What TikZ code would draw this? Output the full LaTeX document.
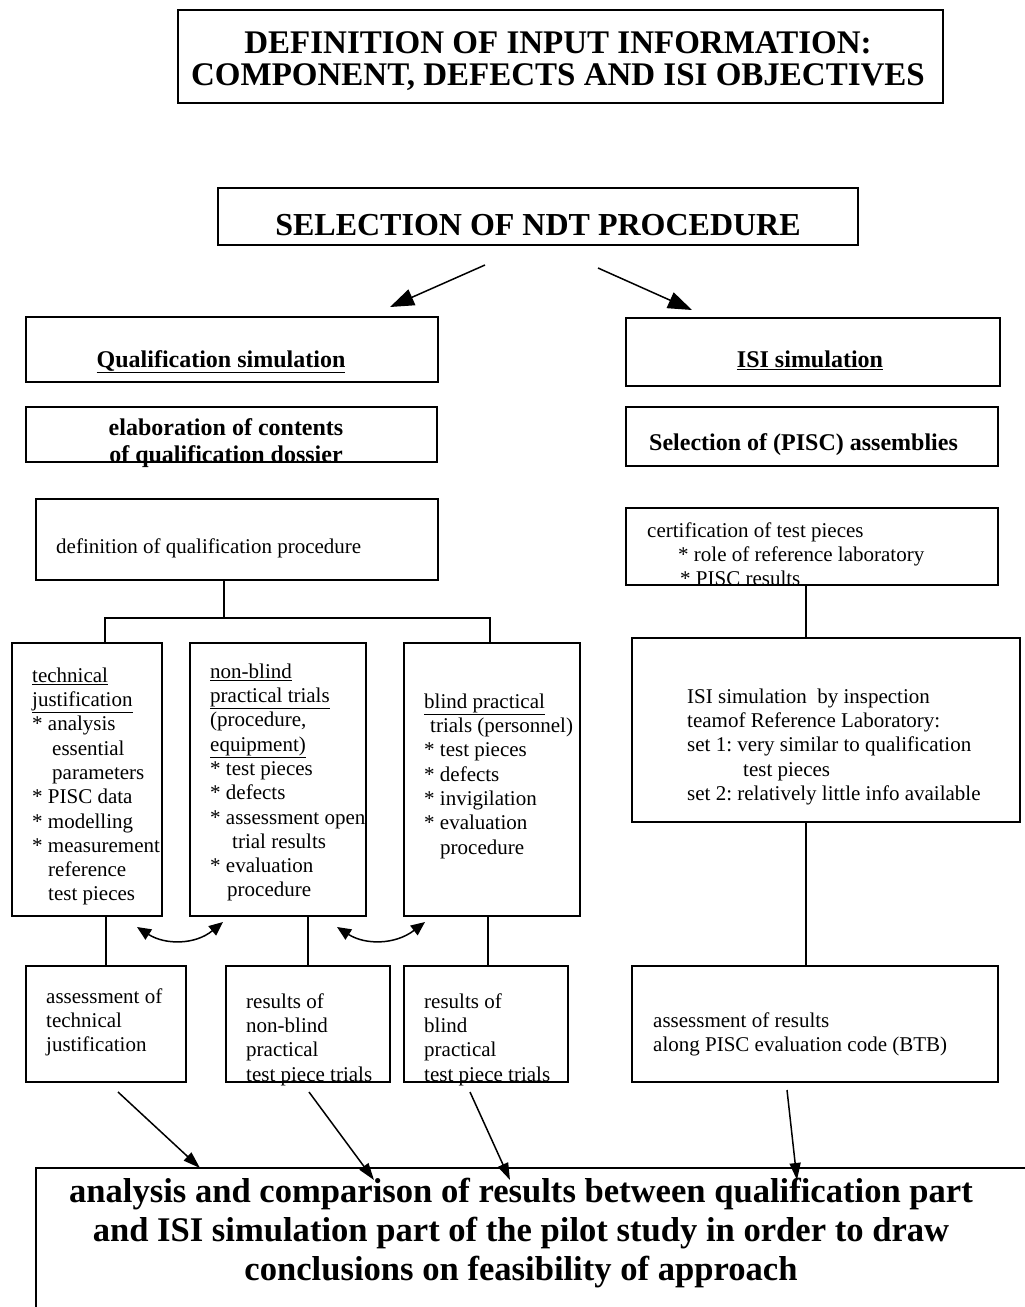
\documentclass[tikz,border=0pt]{standalone}
\usepackage{fontspec}
\setmainfont{Liberation Serif}
\usetikzlibrary{arrows.meta}
\frenchspacing
\begin{document}
\begin{tikzpicture}[x=1pt,y=-1pt,
  box/.style={draw, line width=1.5pt, inner sep=0pt},
  conn/.style={line width=1.5pt},
  txt/.style={inner sep=0pt, anchor=north west, align=left, font=\fontsize{21}{24.3}\selectfont},
  hd/.style={inner sep=0pt, font=\fontsize{24}{27.6}\selectfont\bfseries},
  bigarr/.style={line width=1.5pt, -{Triangle[length=24pt,width=17pt]}},
  midarr/.style={line width=1.5pt, -{Triangle[length=17pt,width=11pt]}},
  dblarr/.style={line width=1.5pt, {Triangle[length=14pt,width=12pt]}-{Triangle[length=14pt,width=12pt]}}]
\useasboundingbox (0,0) rectangle (1025,1307);
\fill[white] (0,0) rectangle (1025,1307);

% boxes
\node[box, minimum width=765pt, minimum height=93pt] (title) at (560.5,56.5) {};
\node[box, minimum width=640pt, minimum height=57pt] (sel) at (538,216.5) {};
\node[box, minimum width=412pt, minimum height=65pt] (qsim) at (232,349.5) {};
\node[box, minimum width=374pt, minimum height=68pt] (isim) at (813,352) {};
\node[box, minimum width=411pt, minimum height=55pt] (elab) at (231.5,434.5) {};
\node[box, minimum width=372pt, minimum height=59pt] (pisc) at (812,436.5) {};
\node[box, minimum width=402pt, minimum height=81pt] (defq) at (237,539.5) {};
\node[box, minimum width=372pt, minimum height=77pt] (cert) at (812,546.5) {};
\node[box, minimum width=388pt, minimum height=184pt] (insp) at (826,730) {};
\node[box, minimum width=150pt, minimum height=273pt] (tj) at (87,779.5) {};
\node[box, minimum width=176pt, minimum height=273pt] (nb) at (278,779.5) {};
\node[box, minimum width=176pt, minimum height=273pt] (bp) at (492,779.5) {};
\node[box, minimum width=160pt, minimum height=116pt] (atj) at (106,1024) {};
\node[box, minimum width=164pt, minimum height=116pt] (rnb) at (308,1024) {};
\node[box, minimum width=164pt, minimum height=116pt] (rbp) at (486,1024) {};
\node[box, minimum width=366pt, minimum height=116pt] (btb) at (815,1024) {};
\begin{scope}
\clip (0,0) rectangle (1025,1307);
\node[box, minimum width=1009pt, minimum height=162pt] (final) at (540.5,1249) {};
\end{scope}

% texts
\node[inner sep=0pt, align=center, font=\fontsize{33}{32}\selectfont\bfseries, anchor=north] (ttitle) at (558,31)
  {DEFINITION OF INPUT INFORMATION:\\COMPONENT, DEFECTS AND ISI OBJECTIVES};
\node[inner sep=0pt, anchor=base, font=\fontsize{32}{36}\selectfont\bfseries] (tsel) at (538,235) {SELECTION OF NDT PROCEDURE};
\node[hd, anchor=base] (tqsim) at (221,367) {\underline{Qualification simulation}};
\node[hd, anchor=base] (tisim) at (810,367) {\underline{ISI simulation}};
\node[hd, anchor=north, align=center] (telab) at (226,415.7) {\strut elaboration of contents\\of qualification dossier};
\node[hd, anchor=base west] (tpisc) at (649,450) {Selection of (PISC) assemblies};
\node[txt, anchor=base west] (tdefq) at (56,553) {definition of qualification procedure};
\node[txt] (tcert) at (647,520) {\strut certification of test pieces\\
  \hspace*{31pt}* role of reference laboratory\\
  \hspace*{33pt}* PISC results};
\node[txt] (tinsp) at (687,686) {\strut ISI simulation\ \ by inspection\\
  teamof Reference Laboratory:\\
  set 1: very similar to qualification\\
  \hspace*{56pt}test pieces\\
  set 2: relatively little info available};
\node[txt] (ttj) at (32,665) {\strut\underline{technical}\\
  \underline{justification}\\
  * analysis\\
  \hspace*{20pt}essential\\
  \hspace*{20pt}parameters\\
  * PISC data\\
  * modelling\\
  * measurement\\
  \hspace*{16pt}reference\\
  \hspace*{16pt}test pieces};
\node[txt] (tnb) at (210,661) {\strut\underline{non-blind}\\
  \underline{practical trials}\\
  (procedure,\\
  \underline{equipment)}\\
  * test pieces\\
  * defects\\
  * assessment open\\
  \hspace*{22pt}trial results\\
  * evaluation\\
  \hspace*{17pt}procedure};
\node[txt] (tbp) at (424,691) {\strut\underline{blind practical}\\
  \hspace*{6pt}trials (personnel)\\
  * test pieces\\
  * defects\\
  * invigilation\\
  * evaluation\\
  \hspace*{16pt}procedure};
\node[txt] (tatj) at (46,986) {\strut assessment of\\technical\\justification};
\node[txt] (trnb) at (246,991) {\strut results of\\non-blind\\practical\\test piece trials};
\node[txt] (trbp) at (424,991) {\strut results of\\blind\\practical\\test piece trials};
\node[txt] (tbtb) at (653,1010) {\strut assessment of results\\along PISC evaluation code (BTB)};
\node[inner sep=0pt, align=center, anchor=north, font=\fontsize{34.6}{39}\selectfont\bfseries] (tfinal) at (521,1175)
  {\strut analysis and comparison of results between qualification part\\
   and ISI simulation part of the pilot study in order to draw\\
   conclusions on feasibility of approach};

% connectors
\coordinate (j1) at (224,618);
\coordinate (jl) at (105,618);
\coordinate (jr) at (490,618);
\draw[conn] (defq.south -| j1) -- (j1);
\draw[conn] (tj.north -| jl) -- (jl) -- (jr) -- (bp.north -| jr);
\coordinate (cx) at (806,0);
\draw[conn] (cert.south -| cx) -- (insp.north -| cx);
\draw[conn] (insp.south -| cx) -- (btb.north -| cx);
\draw[conn] (tj.south -| atj.north) -- (atj.north);
\draw[conn] (nb.south -| rnb.north) -- (rnb.north);
\coordinate (c3) at (488,0);
\draw[conn] (bp.south -| c3) -- (rbp.north -| c3);

% arrows from selection
\coordinate (s1) at (485,265);
\coordinate (e1) at (390,307);
\coordinate (s2) at (598,268);
\coordinate (e2) at (692,310);
\draw[bigarr] (s1) -- (e1);
\draw[bigarr] (s2) -- (e2);

% double arrows
\coordinate (d1a) at (137,927);
\coordinate (d1b) at (223,922);
\coordinate (d2a) at (337,927);
\coordinate (d2b) at (425,922);
\draw[dblarr] (d1a) .. controls (165,945) and (195,945) .. (d1b);
\draw[dblarr] (d2a) .. controls (365,945) and (395,945) .. (d2b);

% bottom arrows
\coordinate (b1s) at (118,1092);
\coordinate (b1e) at (200,1168);
\coordinate (b2s) at (309,1092);
\coordinate (b2e) at (374,1180);
\coordinate (b3s) at (470,1092);
\coordinate (b3e) at (510,1180);
\coordinate (b4s) at (787,1090);
\coordinate (b4e) at (797,1180);
\draw[midarr] (b1s) -- (b1e);
\draw[midarr] (b2s) -- (b2e);
\draw[midarr] (b3s) -- (b3e);
\draw[midarr] (b4s) -- (b4e);
\end{tikzpicture}
\end{document}
